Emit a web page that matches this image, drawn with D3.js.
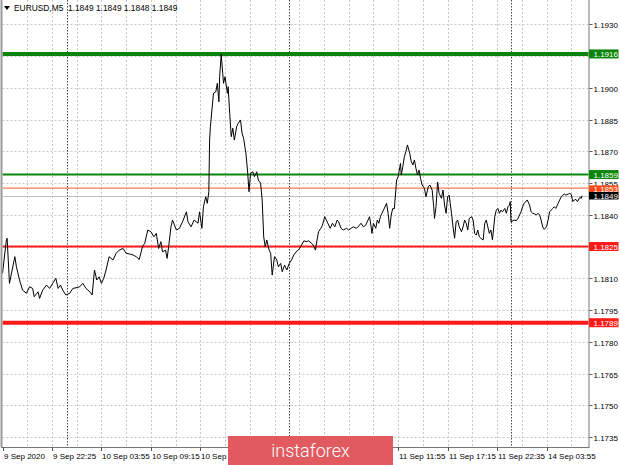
<!DOCTYPE html>
<html><head><meta charset="utf-8">
<script src="https://cdn.jsdelivr.net/npm/d3@7"></script>
<style>body{margin:0;background:#fff}svg{display:block}</style>
</head><body><svg id="c" width="620" height="465"></svg>
<script>
// ---------- data ----------
const symbol = "EURUSD,M5";
const headerOHLC = ["1.1849", "1.1849", "1.1848", "1.1849"];

// M5 bar number (0 = 9 Sep 17:05) and close price
const barIndex = [0,5,6,9,16,18,22,26,31,35,39,41,46,48,52,57,61,65,69,72,75,78,82,87,91,95,100,104,108,113,116,119,122,125,128,131,134,138,143,147,151,156,160,164,169,173,177,181,184,
188,192,196,199,202,205,207,211,213,215,218,220,225,229,233,238,240,244,248,253,255,258,260,263,265,267,268,269,271,273,276,278,280,281,283,285,286,288,291,292,294,296,298,300,303,305,308,310,312,315,317,319,321,324,326,329,331,334,336,338,340,342,345,347,349,352,355,357,360,362,365,368,371,
374,377,380,383,387,390,393,396,400,402,405,407,409,412,414,417,419,421,424,427,430,433,435,438,441,445,448,451,454,458,461,464,467,470,473,475,477,478,480,483,485,487,489,491,493,497,499,501,503,505,507,509,510,512,515,516,518,520,522,524,527,529,531,533,535,537,539,541,543,546,548,551,553,556,558,559,561,563,
565,568,570,572,574,576,578,581,583,585,587,589,591,594,596,598,600,602,604,607,609,611,613,615,617,619,622,624,626,628,630,632,634,637,639,641,643,645,647,650,652,654,656,657,658,662,665,667,669,671,673,675,679,682,684,686,688,691,693,695,697,699,701,704,706,708,710,712,714,716,719,721,723,725,727,729,732,734,736,738,740,742,744,747,749,750];

const closes = [1.18123,1.18281,1.18289,1.18076,1.18202,1.18154,1.18092,1.18044,1.18029,1.18060,1.18052,1.18013,1.18036,1.18005,1.18044,1.18068,1.18052,1.18076,1.18100,1.18052,1.18068,1.18044,1.18021,1.18029,1.18052,1.18055,1.18060,1.18076,1.18052,1.18036,1.18021,1.18139,1.18092,1.18107,1.18076,1.18100,1.18139,1.18202,1.18186,1.18218,1.18233,1.18241,1.18218,1.18215,1.18210,1.18202,1.18189,1.18249,1.18265,
1.18328,1.18320,1.18296,1.18312,1.18241,1.18273,1.18225,1.18233,1.18194,1.18249,1.18343,1.18375,1.18328,1.18336,1.18367,1.18414,1.18367,1.18343,1.18375,1.18360,1.18414,1.18336,1.18438,1.18485,1.18454,1.18509,1.18753,1.18816,1.18895,1.18974,1.18981,1.19021,1.18934,1.19052,1.19158,1.19068,1.19021,1.19052,1.18974,1.19005,1.18879,1.18769,1.18809,1.18753,1.18816,1.18832,1.18848,1.18785,1.18761,1.18690,1.18611,1.18509,1.18596,1.18603,1.18580,1.18603,1.18564,1.18549,1.18470,1.18296,1.18249,1.18281,1.18233,1.18218,1.18115,1.18202,1.18186,1.18154,1.18170,1.18131,1.18162,1.18139,1.18170,
1.18186,1.18210,1.18225,1.18233,1.18257,1.18277,1.18273,1.18277,1.18265,1.18257,1.18233,1.18281,1.18320,1.18336,1.18351,1.18391,1.18375,1.18360,1.18336,1.18360,1.18343,1.18375,1.18367,1.18336,1.18328,1.18336,1.18328,1.18336,1.18343,1.18336,1.18347,1.18360,1.18343,1.18351,1.18375,1.18391,1.18343,1.18312,1.18360,1.18336,1.18375,1.18360,1.18391,1.18407,1.18422,1.18454,1.18407,1.18336,1.18399,1.18430,1.18428,1.18517,1.18564,1.18580,1.18643,1.18588,1.18627,1.18674,1.18698,1.18730,1.18690,1.18651,1.18635,1.18659,1.18619,1.18588,1.18611,1.18572,1.18541,1.18525,1.18485,1.18533,1.18541,1.18517,1.18438,1.18383,1.18438,1.18555,
1.18501,1.18478,1.18517,1.18446,1.18407,1.18485,1.18493,1.18407,1.18343,1.18289,1.18367,1.18375,1.18343,1.18320,1.18343,1.18375,1.18360,1.18328,1.18383,1.18391,1.18375,1.18312,1.18304,1.18328,1.18296,1.18289,1.18281,1.18360,1.18375,1.18343,1.18312,1.18328,1.18281,1.18391,1.18422,1.18430,1.18407,1.18422,1.18414,1.18430,1.18407,1.18438,1.18446,1.18462,1.18367,1.18375,1.18372,1.18383,1.18399,1.18414,1.18438,1.18454,1.18470,1.18446,1.18414,1.18407,1.18405,1.18399,1.18407,1.18399,1.18375,1.18343,1.18331,1.18343,1.18375,1.18414,1.18422,1.18430,1.18438,1.18430,1.18454,1.18470,1.18485,1.18493,1.18498,1.18493,1.18498,1.18501,1.18496,1.18462,1.18470,1.18473,1.18462,1.18482,1.18478,1.18490];

const priceTicks = [1.1735,1.1750,1.1765,1.1780,1.1795,1.1810,1.1825,1.1840,1.1855,1.1870,1.1885,1.1900,1.1915,1.1930];
const timeTickBars = [0,64,128,192,256,320,384,448,512,576,640,704];
const timeTickLabels = ["9 Sep 2020","9 Sep 22:25","10 Sep 03:55","10 Sep 09:15","10 Sep 14:35","10 Sep 19:55","11 Sep 01:15","11 Sep 06:35","11 Sep 11:55","11 Sep 17:15","11 Sep 22:35","14 Sep 03:55"];
const daySeparatorBars = [83, 371, 658];
const levelPrices = [1.1916, 1.1859, 1.1825, 1.1789];
const askPrice = 1.18526;
const bidPrice = 1.1849;
const watermark = "instaforex";

// ---------- drawing ----------
const svg = d3.select("#c");
const W = 620, H = 465;
const plotLeft = 2.5, plotRight = 588.5, plotBottom = 447;
const x = d3.scaleLinear().domain([0, 757]).range([plotLeft, 587.5]);
const y = d3.scaleLinear().domain([1.1735, 1.1930]).range([437.0, 24.3]);
const font = "'Liberation Sans', Arial, sans-serif";
const wm = {x: 228, y: 436, w: 165, h: 29};

svg.append("rect").attr("width", W).attr("height", H).attr("fill", "#fff");

// horizontal grid
svg.append("g").selectAll("line").data(priceTicks).join("line")
  .attr("x1", plotLeft).attr("x2", plotRight)
  .attr("y1", d => Math.round(y(d)) + 0.5).attr("y2", d => Math.round(y(d)) + 0.5)
  .attr("stroke", "#c8c8c8").attr("stroke-width", 1).attr("stroke-dasharray", "2,2");

// vertical grid
const gridBars = d3.range(32, 757, 32);
svg.append("g").selectAll("line").data(gridBars).join("line")
  .attr("x1", d => Math.round(x(d)) + 0.5).attr("x2", d => Math.round(x(d)) + 0.5)
  .attr("y1", 0).attr("y2", plotBottom)
  .attr("stroke", "#c8c8c8").attr("stroke-width", 1).attr("stroke-dasharray", "2,2");

// day separators
svg.append("g").selectAll("line").data(daySeparatorBars).join("line")
  .attr("x1", d => Math.round(x(d)) + 0.5).attr("x2", d => Math.round(x(d)) + 0.5)
  .attr("y1", 0).attr("y2", plotBottom)
  .attr("stroke", "#444").attr("stroke-width", 1).attr("stroke-dasharray", "1.5,1.5");

// level lines
const levelColor = ["#0a850a", "#0a850a", "#ff1a1a", "#ff1a1a"];
const levelWidth = [4, 2, 2, 4];
svg.append("g").selectAll("line").data(levelPrices).join("line")
  .attr("x1", plotLeft).attr("x2", plotRight)
  .attr("y1", d => y(d)).attr("y2", d => y(d))
  .attr("stroke", (d, i) => levelColor[i]).attr("stroke-width", (d, i) => levelWidth[i]);

// ask / bid lines
svg.append("line").attr("x1", plotLeft).attr("x2", plotRight)
  .attr("y1", y(askPrice)).attr("y2", y(askPrice))
  .attr("stroke", "#ff5a2a").attr("stroke-width", 1);
svg.append("line").attr("x1", plotLeft).attr("x2", plotRight)
  .attr("y1", Math.round(y(bidPrice)) + 0.5).attr("y2", Math.round(y(bidPrice)) + 0.5)
  .attr("stroke", "#c0c0c0").attr("stroke-width", 1);

// price line
const pts = barIndex.map((b, i) => [b, closes[i]]);
svg.append("path").datum(pts)
  .attr("d", d3.line().x(d => x(d[0])).y(d => y(d[1])))
  .attr("fill", "none").attr("stroke", "#000").attr("stroke-width", 1);

// frame
svg.append("line").attr("x1", 1.5).attr("x2", 1.5).attr("y1", 0).attr("y2", plotBottom)
  .attr("stroke", "#999").attr("stroke-width", 2);
svg.append("line").attr("x1", plotRight + 0.5).attr("x2", plotRight + 0.5).attr("y1", 0).attr("y2", plotBottom + 0.5)
  .attr("stroke", "#777").attr("stroke-width", 1);
svg.append("line").attr("x1", 1).attr("x2", plotRight + 1).attr("y1", plotBottom + 0.5).attr("y2", plotBottom + 0.5)
  .attr("stroke", "#777").attr("stroke-width", 1);

// right axis (labels under a price box are hidden by it, as in the terminal)
const boxPrices = levelPrices.concat([askPrice, bidPrice]);
const ra = svg.append("g").attr("font-family", font).attr("font-size", 8).attr("fill", "#000");
priceTicks.forEach(p => {
  const yy = Math.round(y(p)) + 0.5;
  ra.append("line").attr("x1", plotRight + 1).attr("x2", plotRight + 4).attr("y1", yy).attr("y2", yy).attr("stroke", "#555");
  const covered = boxPrices.some(b => Math.abs(y(b) - y(p)) < 5);
  if (!covered) ra.append("text").attr("x", 593.5).attr("y", yy + 3).text(p.toFixed(4));
});

// bottom axis (labels behind the watermark are hidden by it)
svg.append("clipPath").attr("id", "wmclip").append("rect")
  .attr("x", 0).attr("y", 0).attr("width", wm.x).attr("height", H);
const ba = svg.append("g").attr("font-family", font).attr("font-size", 8).attr("fill", "#000");
timeTickBars.forEach((b, i) => {
  const xx = Math.round(x(b)) + 0.5;
  ba.append("line").attr("x1", xx).attr("x2", xx).attr("y1", plotBottom).attr("y2", plotBottom + 4).attr("stroke", "#555");
  const start = xx + 0.5, end = start + 45;
  if (start >= wm.x && start < wm.x + wm.w) return;          // fully behind the watermark
  const t = ba.append("text").attr("x", start).attr("y", 459).text(timeTickLabels[i]);
  if (start < wm.x && end > wm.x) t.attr("clip-path", "url(#wmclip)");
});

// price labels on the axis
function priceBox(p, fill, textFill, yc, h) {
  const g = svg.append("g");
  g.append("rect").attr("x", plotRight + 0.5).attr("y", yc - h / 2).attr("width", 29.5).attr("height", h).attr("fill", fill);
  g.append("text").attr("x", 593.5).attr("y", yc + 3).attr("font-family", font).attr("font-size", 8)
    .attr("fill", textFill).text(p.toFixed(4));
}
levelPrices.forEach((p, i) => priceBox(p, i < 2 ? "#0a850a" : "#ff1a1a", "#fff", y(p), 9));
priceBox(askPrice, "#ff4a1a", "#fff", y(askPrice) + 1, 7.5);
priceBox(bidPrice, "#000", "#fff", y(bidPrice), 7.5);

// header
svg.append("path").attr("d", "M4,6 L10,6 L7,10 Z").attr("fill", "#000");
svg.append("text").attr("x", 14).attr("y", 11).attr("font-family", font).attr("font-size", 8.4).attr("fill", "#000")
  .attr("xml:space", "preserve").text(symbol + "  " + headerOHLC.join(" "));

// watermark
svg.append("rect").attr("x", wm.x).attr("y", wm.y).attr("width", wm.w).attr("height", wm.h).attr("fill", "#e05a5f");
svg.append("text").attr("x", wm.x + wm.w / 2).attr("y", 457).attr("text-anchor", "middle")
  .attr("font-family", "Roboto, 'Liberation Sans', sans-serif").attr("font-weight", 300).attr("font-size", 18)
  .attr("fill", "#fff").text(watermark);
</script>
</body></html>
